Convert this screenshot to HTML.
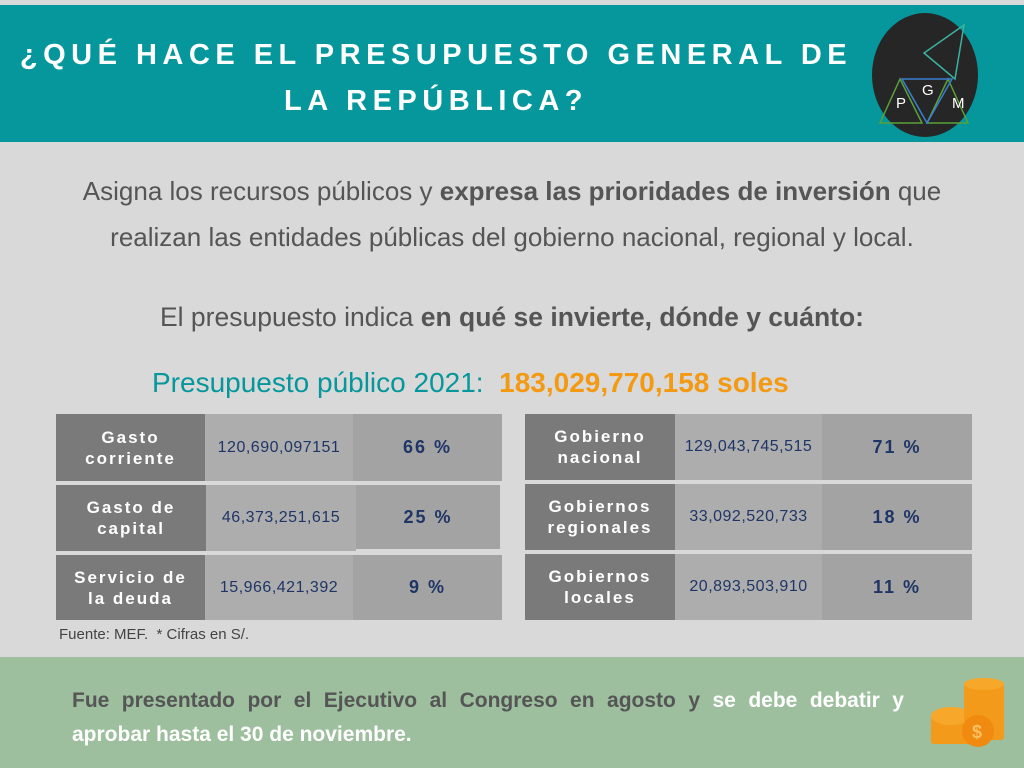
<!DOCTYPE html>
<html><head><meta charset="utf-8"><style>
*{margin:0;padding:0;box-sizing:border-box}
body{width:1024px;height:768px;background:#d9d9d9;position:relative;overflow:hidden;font-family:"Liberation Sans",sans-serif}
.banner{position:absolute;left:0;top:5px;width:1024px;height:137px;background:#05979b}
.title{position:absolute;left:0;top:32px;width:872px;text-align:center;color:#fff;font-weight:bold;font-size:29px;letter-spacing:5.5px;line-height:46px}
.p{position:absolute;left:0;width:1024px;text-align:center;color:#555;font-size:26px}
.cell{position:absolute;display:flex;align-items:center;justify-content:center;text-align:center}
.lab{background:#7a7a7a;color:#fff;font-weight:bold;font-size:17px;letter-spacing:2px;line-height:21px}
.num{background:#adadad;color:#1f3566;font-size:16px;letter-spacing:0.5px}
.pct{background:#a3a3a3;color:#1f3566;font-weight:bold;font-size:18px;letter-spacing:2px}
.foot{position:absolute;left:0;top:657px;width:1024px;height:111px;background:#9dbf9e}
.fl{position:absolute;left:72px;width:832px;font-size:21px;font-weight:bold;color:#555;line-height:34px;white-space:nowrap}
</style></head><body>
<div class="banner"></div>
<div class="title">¿QUÉ HACE EL PRESUPUESTO GENERAL DE<br>LA REPÚBLICA?</div>
<svg style="position:absolute;left:870px;top:11px" width="110" height="130">
<ellipse cx="55" cy="64" rx="53" ry="62" fill="#262626"/>
<polygon points="94,14 54,42 85,68" fill="none" stroke="#3bb3a0" stroke-width="1.5"/>
<polygon points="30,68 10,112 52,112" fill="none" stroke="#5aa13a" stroke-width="1.5"/>
<polygon points="78,68 57,112 98,112" fill="none" stroke="#5aa13a" stroke-width="1.5"/>
<polygon points="32,68 82,68 57,112" fill="none" stroke="#3a7fd0" stroke-width="1.5"/>
<text x="26" y="97" fill="#fff" font-size="15" font-family="Liberation Sans">P</text>
<text x="52" y="84" fill="#fff" font-size="15" font-family="Liberation Sans">G</text>
<text x="82" y="97" fill="#fff" font-size="15" font-family="Liberation Sans">M</text>
</svg>
<div class="p" style="top:168px;line-height:46px">Asigna los recursos públicos y <b>expresa las prioridades de inversión</b> que<br>realizan las entidades públicas del gobierno nacional, regional y local.</div>
<div class="p" style="top:300px;line-height:34px;font-size:26.5px">El presupuesto indica <b>en qué se invierte, dónde y cuánto:</b></div>
<div style="position:absolute;left:152px;top:367px;font-size:28px;color:#05979b;white-space:nowrap">Presupuesto público 2021: &nbsp;<b style="color:#f39a12">183,029,770,158 soles</b></div>

<div class="cell lab" style="left:56px;top:414px;width:149px;height:67px">Gasto<br>corriente</div>
<div class="cell num" style="left:205px;top:414px;width:148px;height:67px">120,690,097151</div>
<div class="cell pct" style="left:353px;top:414px;width:149px;height:67px">66 %</div>
<div class="cell lab" style="left:56px;top:485px;width:150px;height:66px">Gasto de<br>capital</div>
<div class="cell num" style="left:206px;top:485px;width:150px;height:66px">46,373,251,615</div>
<div class="cell pct" style="left:356px;top:485px;width:144px;height:64px">25 %</div>
<div class="cell lab" style="left:56px;top:555px;width:149px;height:65px">Servicio de<br>la deuda</div>
<div class="cell num" style="left:205px;top:555px;width:148px;height:65px">15,966,421,392</div>
<div class="cell pct" style="left:353px;top:555px;width:149px;height:65px">9 %</div>

<div class="cell lab" style="left:525px;top:414px;width:150px;height:66px">Gobierno<br>nacional</div>
<div class="cell num" style="left:675px;top:414px;width:147px;height:66px">129,043,745,515</div>
<div class="cell pct" style="left:822px;top:414px;width:150px;height:66px">71 %</div>
<div class="cell lab" style="left:525px;top:484px;width:150px;height:66px">Gobiernos<br>regionales</div>
<div class="cell num" style="left:675px;top:484px;width:147px;height:66px">33,092,520,733</div>
<div class="cell pct" style="left:822px;top:484px;width:150px;height:66px">18 %</div>
<div class="cell lab" style="left:525px;top:554px;width:150px;height:66px">Gobiernos<br>locales</div>
<div class="cell num" style="left:675px;top:554px;width:147px;height:66px">20,893,503,910</div>
<div class="cell pct" style="left:822px;top:554px;width:150px;height:66px">11 %</div>

<div style="position:absolute;left:59px;top:626px;font-size:15px;color:#444">Fuente: MEF. &nbsp;* Cifras en S/.</div>

<div class="foot"></div>
<div class="fl" style="top:684px;white-space:normal;text-align:justify;text-align-last:justify">Fue presentado por el Ejecutivo al Congreso en agosto y <span style="color:#fff">se debe debatir y</span></div>
<div class="fl" style="top:718px;color:#fff">aprobar hasta el 30 de noviembre.</div>
<svg style="position:absolute;left:928px;top:678px" width="80" height="70">
<rect x="3" y="38" width="40" height="28" rx="3" fill="#f39a1a"/>
<ellipse cx="23" cy="38" rx="20" ry="9" fill="#f7a82a"/>
<rect x="36" y="6" width="40" height="56" rx="3" fill="#f39a1a"/>
<ellipse cx="56" cy="6" rx="20" ry="6" fill="#f7a82a"/>
<circle cx="50" cy="53" r="16" fill="#f08a10"/>
<text x="44" y="60" fill="#fbc060" font-size="18" font-weight="bold" font-family="Liberation Sans">$</text>
</svg>
</body></html>
